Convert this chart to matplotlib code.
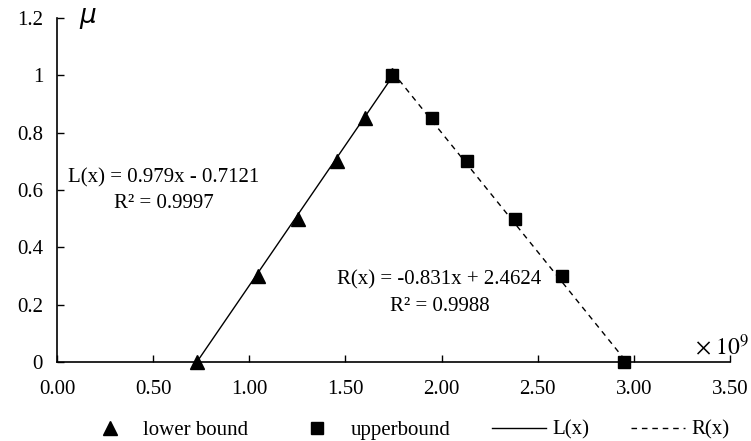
import matplotlib
matplotlib.use('Agg')

import matplotlib.pyplot as plt
import numpy as np

plt.rcParams['font.family'] = ['Liberation Serif', 'DejaVu Serif']
plt.rcParams['mathtext.fontset'] = 'dejavusans'

# data (x in units of 10^9)
lower_x = [0.727, 1.047, 1.255, 1.458, 1.600, 1.745]
lower_y = [0.0, 0.3, 0.5, 0.7, 0.85, 1.0]
upper_x = [1.745, 1.950, 2.135, 2.380, 2.625, 2.950]
upper_y = [1.0, 0.85, 0.7, 0.5, 0.3, 0.0]

# trend line coefficients
l_slope, l_int, l_r2 = 0.979, -0.7121, 0.9997
r_slope, r_int, r_r2 = -0.831, 2.4624, 0.9988

x_ticks = [0.0, 0.5, 1.0, 1.5, 2.0, 2.5, 3.0, 3.5]
y_ticks = [0, 0.2, 0.4, 0.6, 0.8, 1.0, 1.2]
y_labels = ['0', '0.2', '0.4', '0.6', '0.8', '1', '1.2']

fs = 15

fig = plt.figure(figsize=(7.51, 4.41), dpi=100)
ax = fig.add_axes([0.0759, 0.179, 0.896, 0.78])

lx = np.linspace(min(lower_x), max(lower_x), 50)
rx = np.linspace(min(upper_x), max(upper_x), 50)
ax.plot(lx, l_slope * lx + l_int, color='black', lw=1.0, label='L(x)', zorder=2)
ax.plot(rx, r_slope * rx + r_int, color='black', lw=1.0, ls=(0, (4, 3.5)),
        label='R(x)', zorder=2)
ax.plot(lower_x, lower_y, ls='none', marker='^', ms=9.5, color='black',
        label='lower bound', zorder=3, clip_on=False)
ax.plot(upper_x, upper_y, ls='none', marker='s', ms=8.5, color='black',
        label='upperbound', zorder=4, clip_on=False)

ax.set_xlim(0, 3.5)
ax.set_ylim(0, 1.2)
ax.set_xticks(x_ticks)
ax.set_xticklabels(['%.2f' % v for v in x_ticks])
ax.set_yticks(y_ticks)
ax.set_yticklabels(y_labels)
ax.tick_params(axis='both', direction='in', length=5, width=1.0,
               labelsize=fs, color='black')
ax.tick_params(axis='x', pad=13)
ax.tick_params(axis='y', pad=10)
for s in ['top', 'right']:
    ax.spines[s].set_visible(False)
for s in ['left', 'bottom']:
    ax.spines[s].set_linewidth(1.2)

ax.text(0.557, 0.641, 'L(x) = %.3fx - %.4f' % (l_slope, -l_int),
        ha='center', va='center', fontsize=fs)
ax.text(0.557, 0.554, 'R² = %.4f' % l_r2, ha='center', va='center', fontsize=fs)
ax.text(1.99, 0.286, 'R(x) = %.3fx + %.4f' % (r_slope, r_int),
        ha='center', va='center', fontsize=fs)
ax.text(1.99, 0.195, 'R² = %.4f' % r_r2, ha='center', va='center', fontsize=fs)

ax.text(0.032, 1.2, r'$\mu$', transform=ax.get_yaxis_transform(),
        ha='left', va='center', fontsize=19)
ax.text(3.6, 0.01, r'$\times\ 10^9$', ha='right', va='bottom',
        fontsize=17, clip_on=False, math_fontfamily='stix')

handles, labels = ax.get_legend_handles_labels()
order = [2, 3, 0, 1]
fig.legend([handles[i] for i in order], [labels[i] for i in order],
           loc='lower center', bbox_to_anchor=(0.541, -0.04), ncol=4,
           frameon=False, fontsize=fs, handlelength=2.6, handletextpad=0.3,
           columnspacing=2.0)

fig.savefig('out.png', dpi=100)
